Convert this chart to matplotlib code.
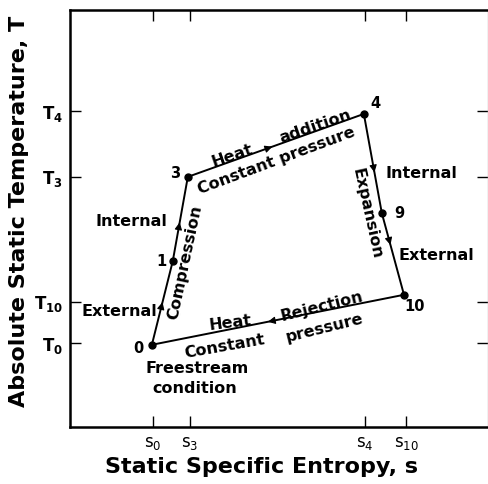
import numpy as np
import matplotlib
matplotlib.use("Agg")
import matplotlib.pyplot as plt

plt.rcParams['font.family'] = 'DejaVu Sans'
plt.rcParams['mathtext.fontset'] = 'dejavusans'

# cycle states (entropy, temperature) in arbitrary units
state_names = ['0', '1', '3', '4', '9', '10']
s_vals = [1.96, 2.46, 2.82, 7.03, 7.46, 7.99]
T_vals = [1.97, 3.98, 6.00, 7.51, 5.13, 3.17]

s_ticks = [1.98, 2.86, 7.05, 8.05]
s_labels = [r'$\mathrm{s_0}$', r'$\mathrm{s_3}$', r'$\mathrm{s_4}$', r'$\mathrm{s_{10}}$']
T_ticks = [7.58, 6.00, 3.00, 2.01]
T_labels = [r'$\mathbf{T_4}$', r'$\mathbf{T_3}$', r'$\mathbf{T_{10}}$', r'$\mathbf{T_0}$']

# arrow location along each leg (fraction of the leg)
arrow_frac = [0.51, 0.46, 0.48, 0.59, 0.39, 0.54]

fig = plt.figure(figsize=(4.89, 4.84), dpi=100)
ax = fig.add_axes([0.143, 0.118, 0.855, 0.861])

s_loop = s_vals + [s_vals[0]]
T_loop = T_vals + [T_vals[0]]
ax.plot(s_loop, T_loop, color='black', lw=1.4, zorder=2)
ax.plot(s_vals, T_vals, 'o', color='black', ms=5, zorder=3)

for i in range(len(s_vals)):
    x0, y0 = s_loop[i], T_loop[i]
    x1, y1 = s_loop[i + 1], T_loop[i + 1]
    f = arrow_frac[i]
    tip = (x0 + f * (x1 - x0), y0 + f * (y1 - y0))
    back = (x0 + (f - 0.02) * (x1 - x0), y0 + (f - 0.02) * (y1 - y0))
    ax.annotate('', xy=tip, xytext=back,
                arrowprops=dict(arrowstyle='-|>', color='black', lw=0.8,
                                mutation_scale=11, shrinkA=0, shrinkB=0))

# state numbers
lab_pos = {'0': (1.63, 1.89), '1': (2.20, 3.98), '3': (2.51, 6.09),
           '4': (7.30, 7.75), '9': (7.87, 5.11), '10': (8.25, 2.88)}
for n in state_names:
    ax.text(*lab_pos[n], n, fontsize=10.5, fontweight='bold', ha='center', va='center')

fs = 11.5
kw = dict(fontsize=fs, fontweight='bold', va='center')
ax.text(3.88, 6.50, 'Heat', ha='center', rotation=19, **kw)
ax.text(5.86, 7.20, 'addition', ha='center', rotation=19, **kw)
ax.text(4.93, 6.38, 'Constant pressure', ha='center', rotation=20.5, **kw)
ax.text(2.75, 3.96, 'Compression', ha='center', rotation=78, **kw)
ax.text(2.34, 4.92, 'Internal', ha='right', **kw)
ax.text(2.08, 2.78, 'External', ha='right', **kw)
ax.text(7.54, 6.09, 'Internal', ha='left', **kw)
ax.text(7.11, 5.11, 'Expansion', ha='center', rotation=-77.5, **kw)
ax.text(7.85, 4.12, 'External', ha='left', **kw)
ax.text(6.03, 2.90, 'Rejection', ha='center', rotation=14, **kw)
ax.text(6.08, 2.38, 'pressure', ha='center', rotation=14, **kw)
ax.text(3.83, 2.50, 'Heat', ha='center', rotation=7, **kw)
ax.text(3.71, 1.92, 'Constant', ha='center', rotation=10, **kw)
ax.text(3.04, 1.41, 'Freestream', ha='center', **kw)
ax.text(2.99, 0.91, 'condition', ha='center', **kw)

ax.set_xlim(0, 10)
ax.set_ylim(0, 10)
ax.set_xticks(s_ticks)
ax.set_xticklabels(s_labels, fontsize=12)
ax.set_yticks(T_ticks)
ax.set_yticklabels(T_labels, fontsize=12)
ax.tick_params(direction='in', length=8, width=1, top=True, right=True, pad=5)

for side in ['left', 'bottom', 'top']:
    ax.spines[side].set_linewidth(1.8)
ax.spines['right'].set_linewidth(1.0)
ax.spines['right'].set_color('#bbbbbb')

ax.set_xlabel('Static Specific Entropy, s', fontsize=16, fontweight='bold')
ax.set_ylabel('Absolute Static Temperature, T', fontsize=16, fontweight='bold')
ax.xaxis.set_label_coords(0.459, -0.072)
ax.yaxis.set_label_coords(-0.098, 0.516)

fig.savefig('out.png', dpi=100)
